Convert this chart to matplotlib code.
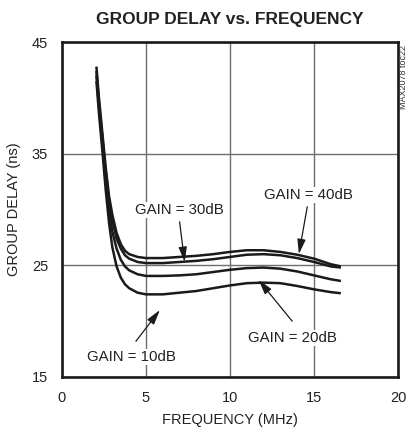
import matplotlib
matplotlib.use("Agg")
import matplotlib.pyplot as plt

plt.rcParams['font.family'] = ['Liberation Sans', 'DejaVu Sans']

# data
freq = [2.05, 2.2, 2.4, 2.6, 2.8, 3.0, 3.25, 3.5, 3.75, 4.0, 4.5, 5.0, 6.0, 7.0,
        8.0, 9.0, 10.0, 11.0, 12.0, 13.0, 14.0, 15.0, 16.0, 16.6]
gain40 = [42.8, 40.0, 36.9, 33.8, 31.2, 29.5, 27.9, 26.9, 26.3, 26.0, 25.75, 25.65, 25.65, 25.75,
          25.85, 26.0, 26.2, 26.35, 26.35, 26.2, 25.95, 25.6, 25.1, 24.9]
gain30 = [42.4, 39.6, 36.5, 33.4, 30.8, 29.0, 27.4, 26.5, 25.9, 25.6, 25.3, 25.2, 25.2, 25.3,
          25.4, 25.55, 25.75, 25.95, 26.0, 25.9, 25.65, 25.3, 24.9, 24.8]
gain20 = [42.0, 39.2, 36.0, 32.7, 29.9, 28.0, 26.5, 25.5, 24.9, 24.55, 24.2, 24.05, 24.05, 24.1,
          24.2, 24.4, 24.6, 24.75, 24.8, 24.7, 24.45, 24.1, 23.75, 23.6]
gain10 = [41.5, 38.6, 35.3, 31.8, 28.8, 26.6, 24.9, 23.9, 23.3, 22.95, 22.55, 22.4, 22.4, 22.55,
          22.7, 22.95, 23.2, 23.4, 23.45, 23.4, 23.15, 22.85, 22.6, 22.5]

labels = ["GAIN = 40dB", "GAIN = 30dB", "GAIN = 20dB", "GAIN = 10dB"]
label_pos = [(14.66, 31.3), (6.98, 29.96), (13.7, 18.5), (4.15, 16.8)]
arrow_tail = [(14.6, 30.25), (7.0, 28.9), (13.7, 20.0), (4.4, 18.2)]
arrow_tip = [(14.1, 26.0), (7.3, 25.3), (11.7, 23.7), (5.83, 21.0)]

xticks = [0, 5, 10, 15, 20]
yticks = [15, 25, 35, 45]

fig = plt.figure(figsize=(4.1, 4.38), dpi=100)
ax = fig.add_axes([0.1512, 0.1393, 0.8195, 0.7648])

for g in [gain40, gain30, gain20, gain10]:
    ax.plot(freq, g, color='#1a1a1a', lw=1.8, solid_capstyle='butt', zorder=3)

for txt, pos in zip(labels, label_pos):
    ax.text(pos[0], pos[1], txt, ha='center', va='center', fontsize=10.8,
            color='#222222', zorder=4,
            bbox=dict(facecolor='white', edgecolor='none', pad=1))

for tail, tip in zip(arrow_tail, arrow_tip):
    ax.annotate('', xy=tip, xytext=tail,
                arrowprops=dict(arrowstyle='-|>,head_length=0.9,head_width=0.25',
                                color='#1a1a1a', lw=0.9, shrinkA=0, shrinkB=0),
                zorder=4)

ax.set_xlim(0, 20)
ax.set_ylim(15, 45)
ax.set_xticks(xticks)
ax.set_yticks(yticks)
ax.tick_params(length=0, labelsize=10.5, pad=10, colors='#222222')
ax.grid(True, color='#6e6e6e', lw=1.0)
ax.set_axisbelow(True)
for s in ax.spines.values():
    s.set_linewidth(1.9)
    s.set_color('#1a1a1a')

ax.set_xlabel("FREQUENCY (MHz)", fontsize=10.5, color='#222222', labelpad=6)
ax.set_ylabel("GROUP DELAY (ns)", fontsize=10.5, color='#222222', labelpad=8)

fig.text(0.561, 0.955, "GROUP DELAY vs. FREQUENCY", ha='center', va='center',
         fontsize=12.5, fontweight='bold', color='#222222')
fig.text(0.985, 0.824, "MAX2078 toc22", ha='center', va='center', rotation=90,
         fontsize=6.5, color='#333333')

fig.savefig("out.png", dpi=100)
